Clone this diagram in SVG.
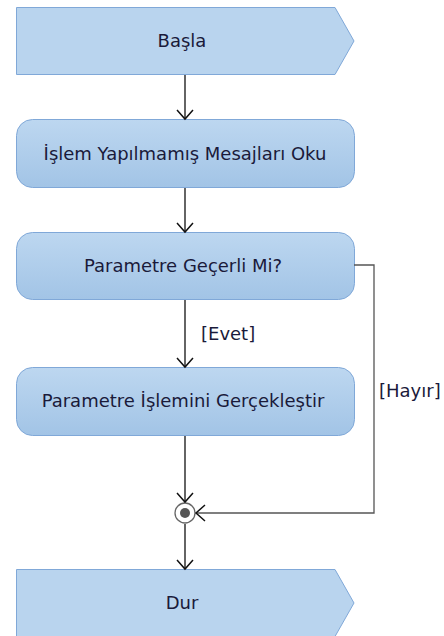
<svg xmlns="http://www.w3.org/2000/svg" width="444" height="636" viewBox="0 0 444 636">
<style>
.pent{fill:#b9d4ee;stroke:#80a8d8;stroke-width:1}
.act{fill:url(#g);stroke:#80a8d8;stroke-width:1}
.t{font-family:"DejaVu Sans",sans-serif;font-size:18px;fill:#1a1a3a;text-anchor:middle}
.l{font-family:"DejaVu Sans",sans-serif;font-size:18px;fill:#1a1a3a}
.c{fill:none;stroke:#111;stroke-width:1.3}
.h{fill:none;stroke:#555;stroke-width:1.3}
</style>
<defs>
<linearGradient id="g" x1="0" y1="0" x2="0" y2="1">
<stop offset="0" stop-color="#bdd7f0"/>
<stop offset="1" stop-color="#a2c4e6"/>
</linearGradient>
<marker id="a" markerWidth="20" markerHeight="20" refX="10" refY="10" orient="auto" markerUnits="userSpaceOnUse">
<path d="M1,2 L10,10 L1,18" fill="none" stroke="#111" stroke-width="1.5"/>
</marker>
</defs>
<g id="basla">
<path class="pent" d="M16.5,7.5 H335 L354,41 L335,74.5 H16.5 Z"/>
<text class="t" x="182" y="47">Başla</text>
</g>
<g id="oku">
<rect class="act" x="16.5" y="119.5" width="338" height="68" rx="16"/>
<text class="t" x="185" y="160">İşlem Yapılmamış Mesajları Oku</text>
</g>
<g id="gecerli">
<rect class="act" x="16.5" y="232.5" width="338" height="67" rx="16"/>
<text class="t" x="183" y="272">Parametre Geçerli Mi?</text>
</g>
<g id="islem">
<rect class="act" x="16.5" y="367.5" width="338" height="68" rx="16"/>
<text class="t" x="183" y="407">Parametre İşlemini Gerçekleştir</text>
</g>
<g id="merge">
<circle cx="185" cy="513" r="10" fill="#fff" stroke="#666" stroke-width="1.3"/>
<circle cx="185" cy="513" r="5" fill="#555"/>
</g>
<g id="dur">
<path class="pent" d="M16.5,569.5 H335 L354,603 L335,636.5 H16.5 Z"/>
<text class="t" x="182" y="609">Dur</text>
</g>
<g id="connectors">
<line class="c" x1="185" y1="75" x2="185" y2="119" marker-end="url(#a)"/>
<line class="c" x1="185" y1="188" x2="185" y2="232" marker-end="url(#a)"/>
<line class="c" x1="185" y1="300" x2="185" y2="367" marker-end="url(#a)"/>
<text class="l" x="201" y="340">[Evet]</text>
<line class="c" x1="185" y1="436" x2="185" y2="502" marker-end="url(#a)"/>
<polyline class="h" points="354,265 374,265 374,513 196,513" marker-end="url(#a)"/>
<text class="l" x="379" y="397">[Hayır]</text>
<line class="c" x1="185" y1="524" x2="185" y2="569" marker-end="url(#a)"/>
</g>
</svg>
